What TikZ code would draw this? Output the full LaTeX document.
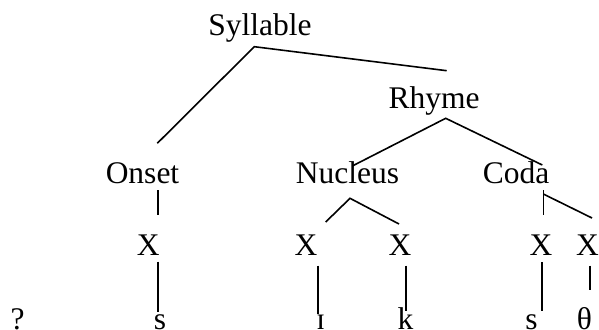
\documentclass[tikz,border=0pt]{standalone}
\usepackage{fontspec}
\setmainfont{Liberation Serif}
\begin{document}
\begin{tikzpicture}[x=1pt,y=-1pt,
    lbl/.style={anchor=base,inner sep=0pt,font=\fontsize{31.5}{36}\selectfont},
    branch/.style={line width=1.6pt,line cap=butt}]
\useasboundingbox (0,0) rectangle (599,329);

% constituent labels (placed on their baselines)
\node[lbl] (syl)     at (259.9,35.7)  {Syllable};
\node[lbl] (rhyme)   at (434,108)     {Rhyme};
\node[lbl] (onset)   at (142.5,183.3) {Onset};
\node[lbl] (nucleus) at (347.5,183.3) {Nucleus};
\node[lbl] (coda)    at (516,183.3)   {Coda};

% timing slots
\node[lbl] (x1) at (148.3,255) {X};
\node[lbl] (x2) at (306,255)   {X};
\node[lbl] (x3) at (400,255)   {X};
\node[lbl] (x4) at (541,255)   {X};
\node[lbl] (x5) at (587.5,255) {X};

% segments
\node[lbl] (seg0) at (17.7,329.5)  {?};
\node[lbl] (seg1) at (160,329.5)   {s};
\node[lbl] (seg2) at (320.7,329.5) {ɪ};
\node[lbl] (seg3) at (405.5,329.5) {k};
\node[lbl] (seg4) at (531.5,329.5) {s};
\node[lbl] (seg5) at (584.5,329.5) {θ};

% branch end points
\coordinate (syl-b)   at (254.3,46.7);
\coordinate (onset-t) at (157.3,143.3);
\coordinate (rhyme-t) at (446.7,70.7);
\coordinate (rhyme-b) at (445.7,118.3);
\coordinate (nuc-t)   at (352.3,166);
\coordinate (coda-t)  at (542.3,165);
\coordinate (onset-b) at (157.7,190);
\coordinate (x1-t)    at (157.7,215);
\coordinate (nuc-b)   at (350,198.3);
\coordinate (x2-t)    at (325.7,222);
\coordinate (x3-t)    at (399,224);
\coordinate (coda-b)  at (543.3,190);
\coordinate (coda-m)  at (543.3,194);
\coordinate (x4-t)    at (543.3,215);
\coordinate (x5-t)    at (592,218);
\coordinate (x1-b)    at (157.7,261.7);
\coordinate (seg1-t)  at (157.7,311.7);
\coordinate (x2-b)    at (318,265.7);
\coordinate (seg2-t)  at (318,314);
\coordinate (x3-b)    at (405.7,265.7);
\coordinate (seg3-t)  at (405.7,310.7);
\coordinate (x4-b)    at (541.7,262.3);
\coordinate (seg4-t)  at (541.7,310.7);
\coordinate (x5-b)    at (589.7,265.7);
\coordinate (seg5-t)  at (589.7,290);

% tree branches
\draw[branch] (onset-t) -- (syl-b) -- (rhyme-t);
\draw[branch] (nuc-t) -- (rhyme-b) -- (coda-t);
\draw[branch] (onset-b) -- (x1-t);
\draw[branch] (x2-t) -- (nuc-b) -- (x3-t);
\draw[branch] (coda-b) -- (x4-t);
\draw[branch] (coda-m) -- (x5-t);

% association lines to segments
\draw[branch] (x1-b) -- (seg1-t);
\draw[branch] (x2-b) -- (seg2-t);
\draw[branch] (x3-b) -- (seg3-t);
\draw[branch] (x4-b) -- (seg4-t);
\draw[branch] (x5-b) -- (seg5-t);
\end{tikzpicture}
\end{document}
